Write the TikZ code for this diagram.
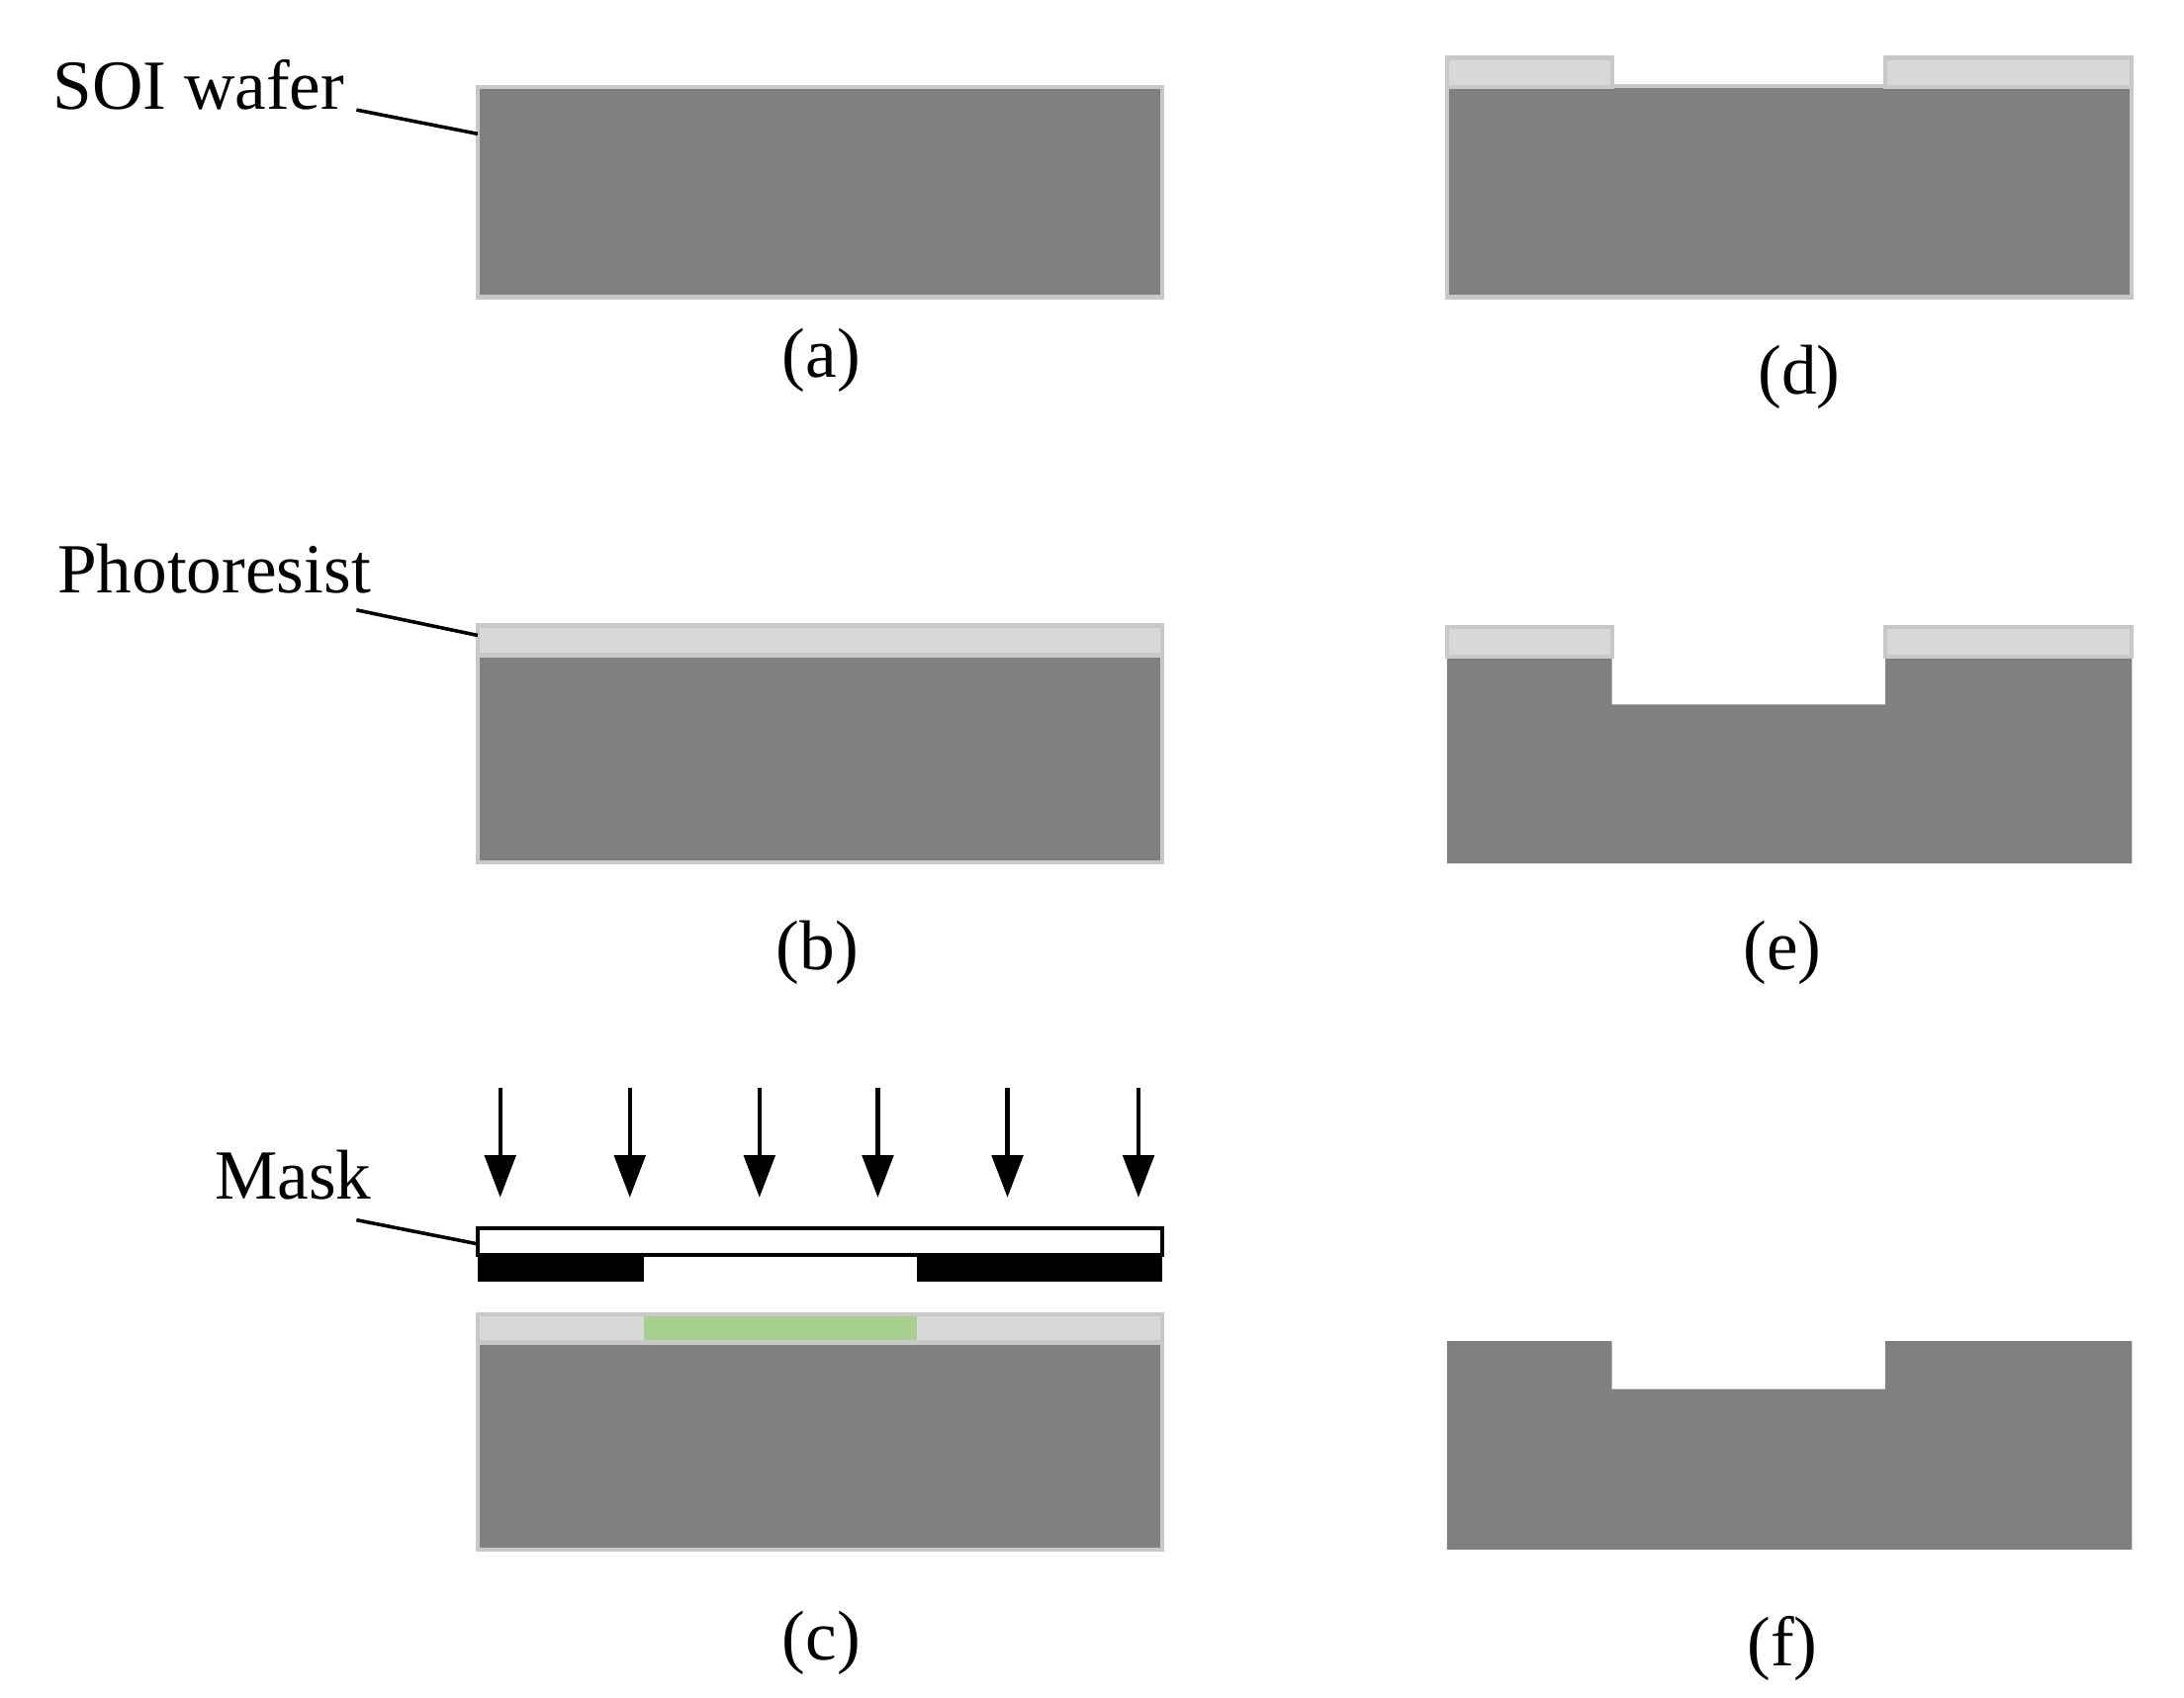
\documentclass[tikz,border=0pt]{standalone}
\usepackage{fontspec}
\setmainfont{Liberation Serif}
\usetikzlibrary{arrows.meta}
\definecolor{wafer}{RGB}{128,128,128}
\definecolor{edge}{RGB}{200,200,200}
\definecolor{resist}{RGB}{216,216,216}
\definecolor{exposed}{RGB}{168,208,141}
\tikzset{
  lbl/.style={font=\fontsize{50}{54}\selectfont, inner sep=0pt},
  body/.style={fill=wafer, draw=edge, line width=3pt},
  layer/.style={fill=resist, draw=edge, line width=3pt},
  lead/.style={line width=2.5pt},
  ray/.style={line width=3pt, -{Triangle[length=30pt,width=22pt]}}
}
\begin{document}
\begin{tikzpicture}[x=1pt,y=-1pt]
\useasboundingbox (0,0) rectangle (1550,1205);
% (a)
\draw[body] (339,62) rectangle (825,211);
\node[lbl] (soi) at (141,60) {SOI wafer};
\coordinate (soiend) at (339,95);
\draw[lead] (253,78) -- (soiend);
\node[lbl] (capa) at (583,256) {(a)};
% (b)
\draw[body] (339,444) rectangle (825,612);
\draw[layer] (339,444) rectangle (825,465);
\node[lbl] (pr) at (152,404) {Photoresist};
\coordinate (prend) at (339,451);
\draw[lead] (253,433) -- (prend);
\node[lbl] (capb) at (580,676) {(b)};
% (c)
\foreach \x [count=\i] in {355,447,539,623,715,808} {
  \coordinate (top\i) at (\x,772);
  \coordinate (bot\i) at (\x,850);
  \draw[ray] (top\i) -- (bot\i);
}
\draw[fill=white, line width=3pt] (339,872) rectangle (825,891);
\fill[black] (339,891) rectangle (457,910);
\fill[black] (651,891) rectangle (825,910);
\draw[body] (339,933) rectangle (825,1100);
\draw[layer] (339,933) rectangle (825,953);
\fill[exposed] (457,934.5) rectangle (651,951.5);
\node[lbl] (mask) at (208,834) {Mask};
\coordinate (maskend) at (339,883);
\draw[lead] (253,866) -- (maskend);
\node[lbl] (capc) at (583,1166) {(c)};
% (d)
\draw[body] (1027,61) rectangle (1513,211);
\draw[layer] (1027,41) rectangle (1144,62);
\draw[layer] (1338,41) rectangle (1513,62);
\node[lbl] (capd) at (1277,268) {(d)};
% (e)
\fill[wafer] (1027,466) -- (1144,466) -- (1144,500) -- (1338,500) -- (1338,466)
  -- (1513,466) -- (1513,613) -- (1027,613) -- cycle;
\draw[layer] (1027,445) rectangle (1144,466);
\draw[layer] (1338,445) rectangle (1513,466);
\node[lbl] (cape) at (1265,676) {(e)};
% (f)
\fill[wafer] (1027,952) -- (1144,952) -- (1144,986) -- (1338,986) -- (1338,952)
  -- (1513,952) -- (1513,1100) -- (1027,1100) -- cycle;
\node[lbl] (capf) at (1265,1170) {(f)};
\end{tikzpicture}
\end{document}
